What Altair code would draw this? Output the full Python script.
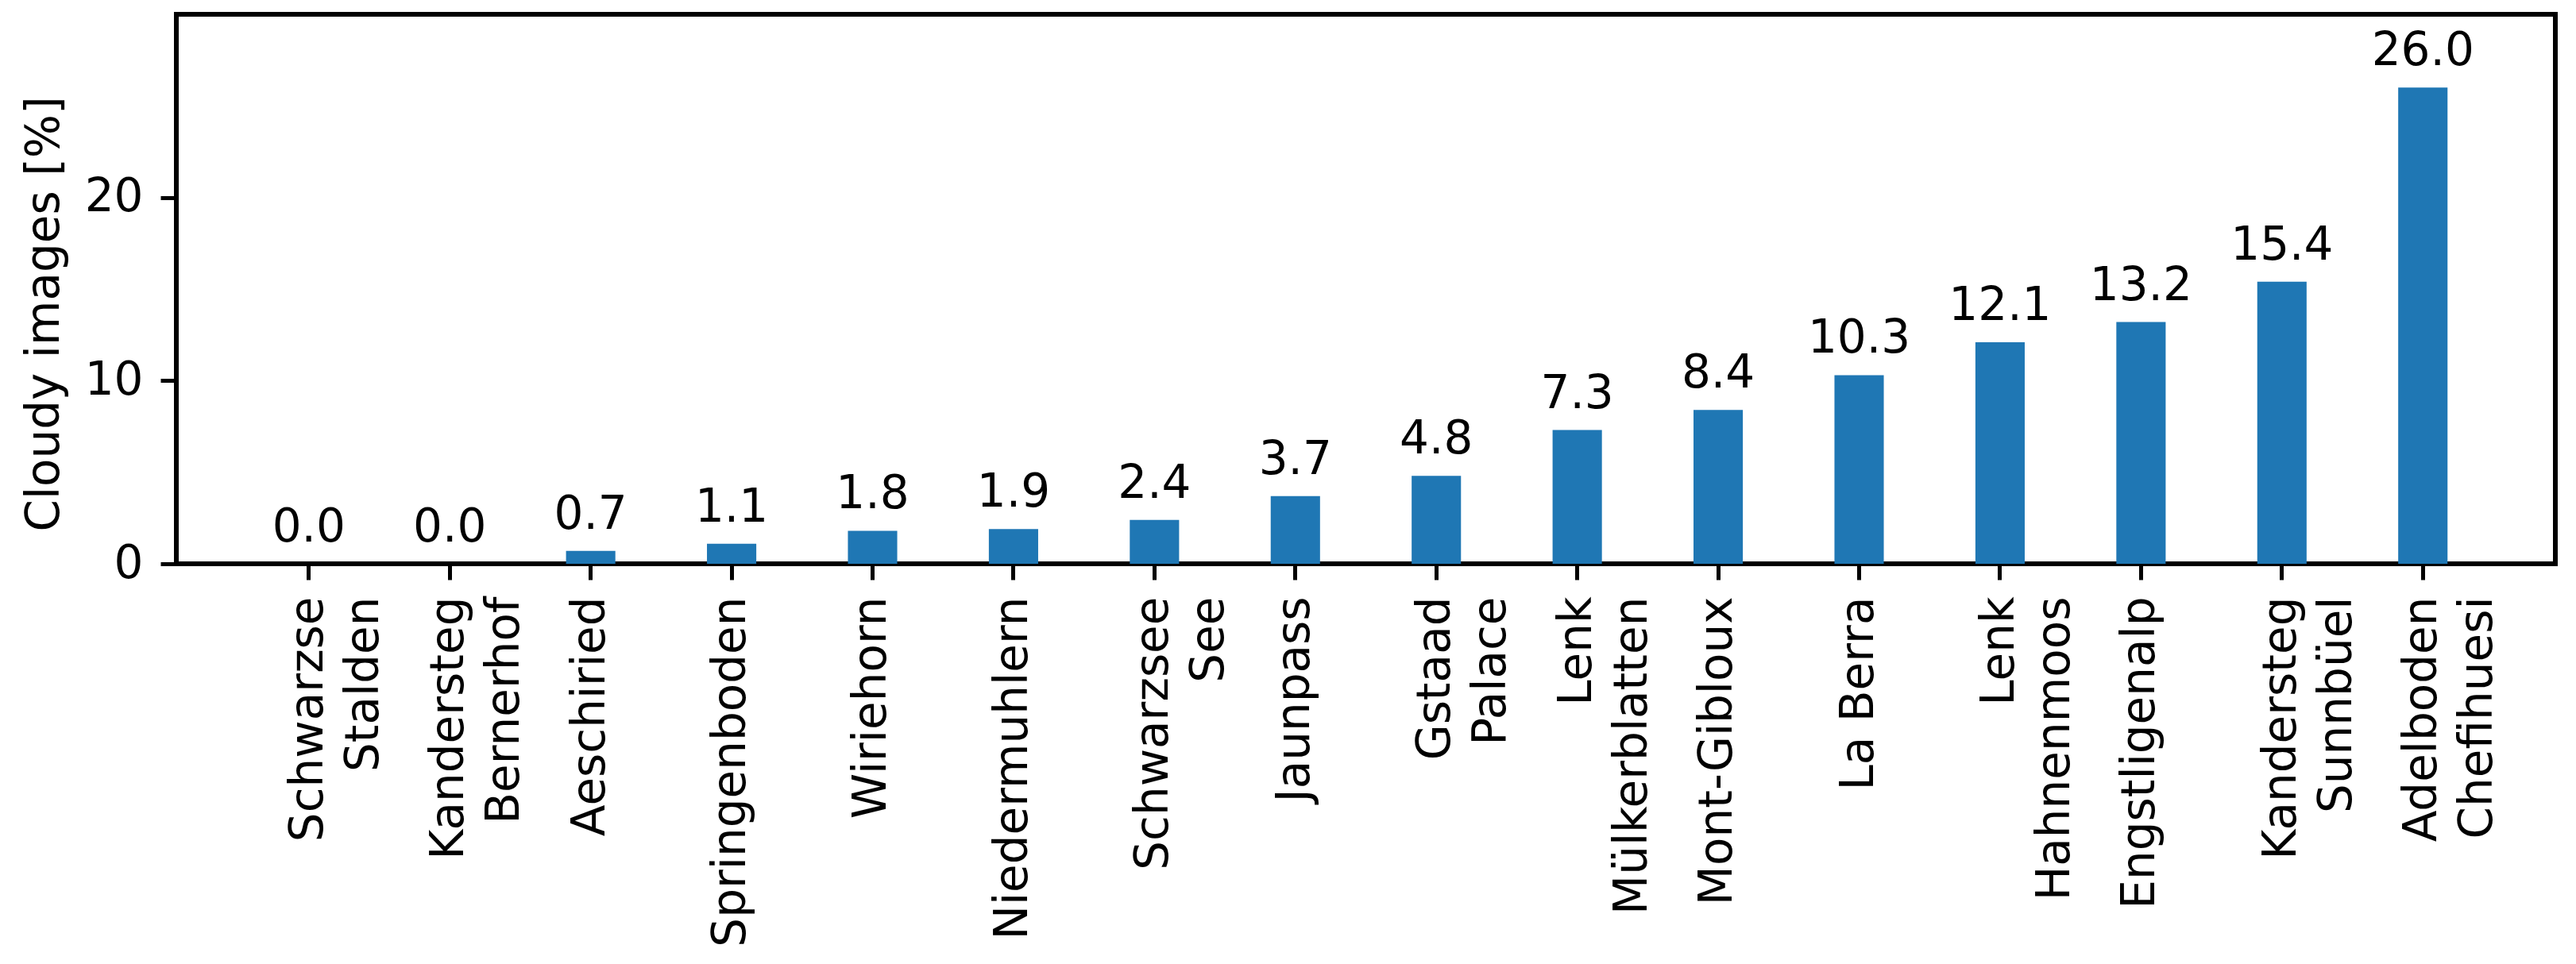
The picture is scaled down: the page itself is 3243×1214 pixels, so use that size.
import altair as alt
import pandas as pd

# ---- data ----
stations = [
    "Schwarzse\nStalden", "Kandersteg\nBernerhof", "Aeschiried", "Springenboden",
    "Wiriehorn", "Niedermuhlern", "Schwarzsee\nSee", "Jaunpass", "Gstaad\nPalace",
    "Lenk\nMülkerblatten", "Mont-Gibloux", "La Berra", "Lenk\nHahnenmoos",
    "Engstligenalp", "Kandersteg\nSunnbüel", "Adelboden\nChefihuesi",
]
cloudy = [0.0, 0.0, 0.7, 1.1, 1.8, 1.9, 2.4, 3.7, 4.8, 7.3, 8.4, 10.3, 12.1, 13.2, 15.4, 26.0]
y_ticks = [0, 10, 20]
y_title = "Cloudy images [%]"

# DejaVu Sans advance widths (units per em = 2048), used to centre the
# lines of a two-line label the way matplotlib does
ADV = {
    "A": 1401, "B": 1405, "C": 1430, "D": 1577, "E": 1294, "G": 1589, "H": 1540,
    "J": 604, "K": 1343, "L": 1141, "M": 1767, "N": 1532, "P": 1235, "S": 1300,
    "W": 2025, "a": 1255, "b": 1300, "c": 1126, "d": 1300, "e": 1260, "f": 721,
    "g": 1300, "h": 1298, "i": 569, "k": 1186, "l": 569, "m": 1995, "n": 1298,
    "o": 1253, "p": 1300, "r": 842, "s": 1067, "t": 803, "u": 1298, "w": 1675,
    "x": 1212, "z": 1075, "ü": 1298, "-": 739, " ": 651, "\u00a0": 651,
}


def text_width(s):
    return sum(ADV.get(c, 1250) for c in s)


def centred_key(name):
    lines = name.split("\n")
    wmax = max(text_width(l) for l in lines)
    out = []
    for l in lines:
        n = round((wmax - text_width(l)) / 2 / ADV["\u00a0"])
        out.append(l + "\u00a0" * n)
    return "|".join(out)


df = pd.DataFrame({"key": [centred_key(s) for s in stations], "cloudy": cloudy})

FONT = "DejaVu Sans"
FS = 58

base = alt.Chart(df).encode(
    x=alt.X(
        "key:N",
        sort=None,
        scale=alt.Scale(paddingInner=0, paddingOuter=0.44),
        axis=alt.Axis(
            title=None,
            labelAngle=270,
            labelAlign="right",
            labelBaseline="middle",
            labelExpr="split(datum.label, '|')",
            labelFont=FONT,
            labelFontSize=FS,
            labelLineHeight=70,
            labelPadding=21,
            labelLimit=3000,
            labelOverlap=False,
            labelColor="black",
            tickSize=20,
            tickWidth=5,
            tickColor="black",
            domain=False,
        ),
    ),
    y=alt.Y(
        "cloudy:Q",
        scale=alt.Scale(domain=[0, 30], nice=False, zero=True),
        axis=alt.Axis(
            values=y_ticks,
            format="d",
            title=y_title,
            grid=False,
            domain=False,
            tickSize=20,
            tickWidth=5,
            tickColor="black",
            labelPadding=22,
            labelFont=FONT,
            labelFontSize=FS,
            labelColor="black",
            titleFont=FONT,
            titleFontSize=FS,
            titleFontWeight="normal",
            titleColor="black",
            titleAngle=270,
            titleX=-149,
            titleY=377,
            titleAlign="center",
            titleBaseline="alphabetic",
        ),
    ),
)

bars = base.mark_bar(color="#1f77b4", width=alt.RelativeBandSize(0.35))
labels = base.mark_text(
    baseline="alphabetic", dy=-28, fontSize=FS, font=FONT, color="black"
).encode(text=alt.Text("cloudy:Q", format=".1f"))

chart = (
    (bars + labels)
    .properties(
        width=2995,
        height=692,
        padding={"left": 214, "top": 10, "right": 18, "bottom": 496},
        autosize=alt.AutoSizeParams(type="none"),
        background="white",
    )
    .configure_view(stroke="black", strokeWidth=6)
)

chart.save("out.html", embed_options={"renderer": "svg", "actions": False})
